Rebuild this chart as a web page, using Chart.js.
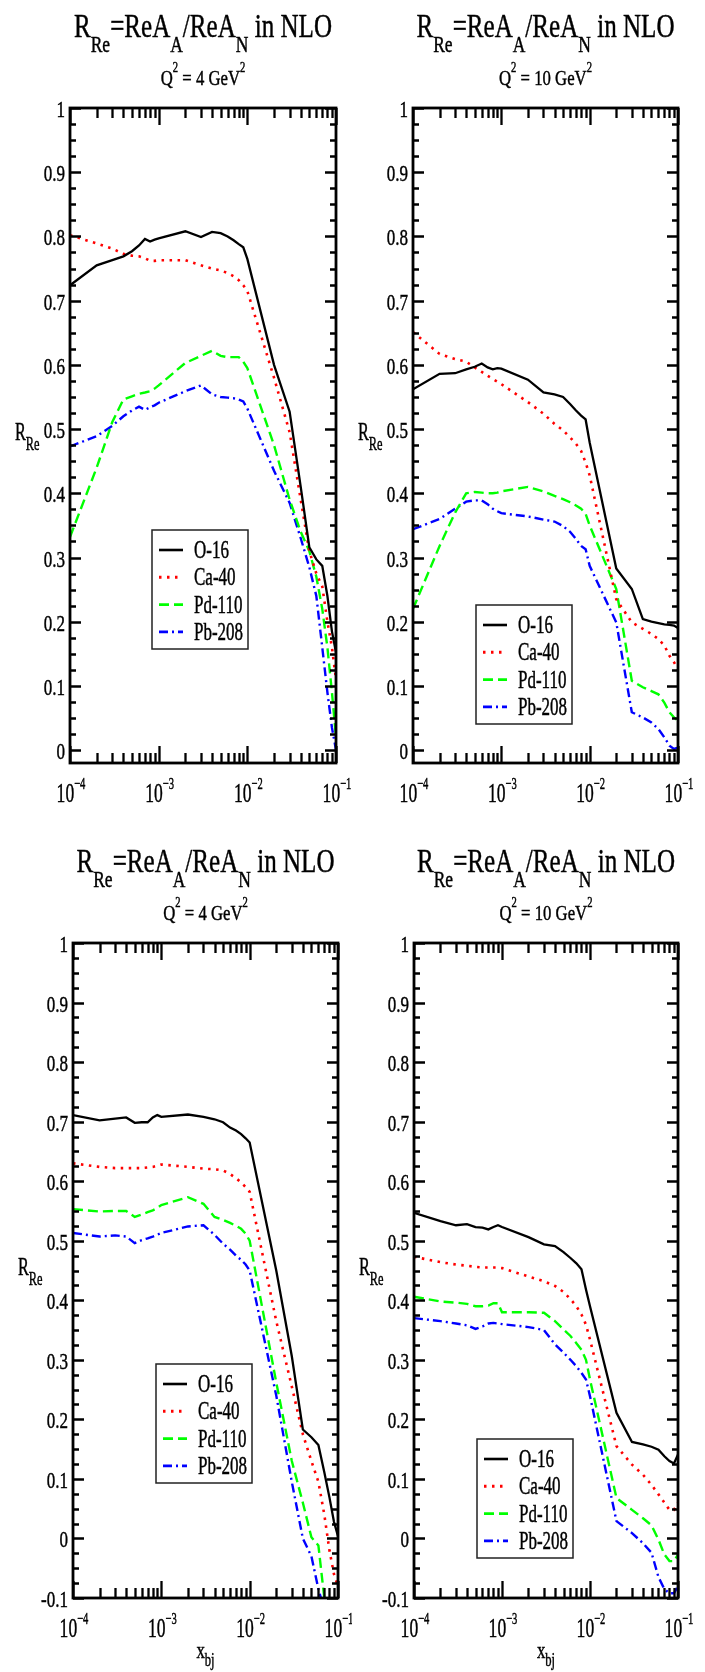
<!DOCTYPE html>
<html>
<head>
<meta charset="utf-8">
<script src="https://cdn.jsdelivr.net/npm/chart.js@4.4.0/dist/chart.umd.min.js"></script>
<style>
  html, body { margin: 0; padding: 0; background: #fff; }
  #page { position: relative; width: 705px; height: 1672px; overflow: hidden; }
  canvas { position: absolute; }
</style>
</head>
<body>
<div id="page">
  <canvas id="c1"></canvas>
  <canvas id="c2"></canvas>
  <canvas id="c3"></canvas>
  <canvas id="c4"></canvas>
</div>
<script>
/* DATA */
const XBJ = [1e-4,2e-4,3e-4,4e-4,5e-4,6e-4,7e-4,8e-4,9e-4,
             1e-3,2e-3,3e-3,4e-3,5e-3,6e-3,7e-3,8e-3,9e-3,
             1e-2,2e-2,3e-2,4e-2,5e-2,6e-2,7e-2,8e-2,9e-2,1e-1];

const NUCLEI = ["O-16", "Ca-40", "Pd-110", "Pb-208"];
const X_DECADES = [1e-4, 1e-3, 1e-2, 1e-1];
const X_EXPONENTS = ["\u22124", "\u22123", "\u22122", "\u22121"];
const Y_VALUES = [-0.1, 0, 0.1, 0.2, 0.3, 0.4, 0.5, 0.6, 0.7, 0.8, 0.9, 1];
const Y_LABELS = ["-0.1", "0", "0.1", "0.2", "0.3", "0.4", "0.5", "0.6", "0.7", "0.8", "0.9", "1"];

// top-left, Q2 = 4
const q4top_O16   = [0.724,0.755,0.763,0.769,0.777,0.786,0.796,0.792,0.795,0.797,0.808,0.799,0.807,0.805,0.800,0.794,0.788,0.783,0.765,0.600,0.527,0.410,0.316,0.297,0.287,0.240,0.185,0.152];
const q4top_Ca40  = [0.802,0.789,0.781,0.773,0.770,0.769,0.766,0.762,0.762,0.763,0.763,0.755,0.750,0.747,0.743,0.738,0.732,0.724,0.715,0.580,0.495,0.390,0.310,0.275,0.255,0.200,0.160,0.110];
const q4top_Pd110 = [0.332,0.440,0.511,0.546,0.551,0.555,0.557,0.559,0.563,0.568,0.603,0.614,0.622,0.614,0.612,0.612,0.612,0.605,0.595,0.475,0.390,0.340,0.310,0.270,0.220,0.160,0.090,0.020];
const q4top_Pb208 = [0.473,0.489,0.505,0.520,0.529,0.535,0.530,0.534,0.537,0.541,0.559,0.568,0.554,0.550,0.549,0.548,0.546,0.543,0.532,0.435,0.385,0.330,0.285,0.240,0.160,0.090,0.035,0.000];

// top-right, Q2 = 10
const q10top_O16   = [0.562,0.586,0.587,0.593,0.597,0.602,0.596,0.593,0.595,0.594,0.577,0.557,0.554,0.550,0.539,0.529,0.521,0.515,0.479,0.283,0.251,0.204,0.200,0.198,0.196,0.195,0.194,0.190];
const q10top_Ca40  = [0.651,0.617,0.609,0.605,0.596,0.589,0.583,0.578,0.574,0.570,0.542,0.524,0.508,0.498,0.487,0.477,0.466,0.448,0.428,0.235,0.199,0.189,0.181,0.173,0.163,0.147,0.137,0.126];
const q10top_Pd110 = [0.220,0.318,0.370,0.400,0.402,0.401,0.400,0.400,0.401,0.403,0.410,0.403,0.396,0.391,0.386,0.381,0.376,0.368,0.350,0.251,0.108,0.098,0.092,0.087,0.074,0.059,0.051,0.046];
const q10top_Pb208 = [0.344,0.360,0.376,0.387,0.389,0.389,0.383,0.376,0.372,0.369,0.364,0.359,0.356,0.349,0.340,0.329,0.318,0.313,0.287,0.199,0.059,0.051,0.043,0.033,0.020,0.007,0.002,0.004];

// bottom-left, Q2 = 4
const q4bot_O16   = [0.711,0.702,0.705,0.707,0.698,0.699,0.699,0.707,0.711,0.708,0.712,0.708,0.704,0.699,0.690,0.685,0.679,0.672,0.665,0.450,0.306,0.183,0.170,0.157,0.111,0.069,0.028,0.004];
const q4bot_Ca40  = [0.630,0.624,0.622,0.622,0.622,0.622,0.623,0.624,0.626,0.628,0.624,0.621,0.620,0.618,0.612,0.605,0.598,0.590,0.582,0.365,0.255,0.175,0.130,0.095,0.040,-0.020,-0.060,-0.080];
const q4bot_Pd110 = [0.553,0.549,0.550,0.550,0.540,0.544,0.548,0.551,0.555,0.560,0.573,0.562,0.540,0.535,0.530,0.525,0.520,0.512,0.500,0.262,0.130,0.060,0.002,-0.012,-0.100,-0.140,-0.170,-0.200];
const q4bot_Pb208 = [0.513,0.507,0.509,0.507,0.496,0.501,0.504,0.507,0.510,0.513,0.524,0.526,0.510,0.495,0.485,0.475,0.468,0.460,0.450,0.240,0.095,0.000,-0.030,-0.085,-0.120,-0.160,-0.190,-0.220];

// bottom-right, Q2 = 10
const q10bot_O16   = [0.547,0.533,0.526,0.528,0.523,0.522,0.519,0.523,0.526,0.523,0.506,0.494,0.491,0.481,0.471,0.462,0.452,0.418,0.390,0.211,0.162,0.158,0.154,0.149,0.138,0.130,0.126,0.141];
const q10bot_Ca40  = [0.473,0.464,0.460,0.458,0.456,0.455,0.455,0.455,0.455,0.454,0.440,0.432,0.424,0.414,0.402,0.390,0.376,0.359,0.334,0.155,0.124,0.107,0.090,0.074,0.060,0.048,0.048,0.060];
const q10bot_Pd110 = [0.406,0.398,0.396,0.394,0.390,0.390,0.391,0.395,0.395,0.380,0.380,0.379,0.365,0.351,0.340,0.328,0.317,0.300,0.267,0.068,0.048,0.034,0.022,-0.002,-0.027,-0.038,-0.038,-0.027];
const q10bot_Pb208 = [0.370,0.365,0.361,0.358,0.352,0.356,0.361,0.362,0.361,0.360,0.355,0.350,0.326,0.312,0.300,0.289,0.278,0.267,0.239,0.029,0.009,-0.008,-0.024,-0.065,-0.085,-0.092,-0.092,-0.080];

/* STYLE */
const COLORS = ["#000000", "#ff0000", "#00ff00", "#0000ff"];
const DASHES = [[], [2.5, 5.5], [10, 5], [9, 4, 2, 4]];
const WIDTHS = [2.3, 2.6, 2.4, 2.4];
const FONT = '"Liberation Serif", "Times New Roman", serif';

/* PANELS (page coords) */
const panels = [
  { id: "c1", x0: 0,   y0: 0,   w: 352, h: 836, area: { l: 70,  r: 336, t: 108, b: 763 },  q2: "4",  yMin: -0.02,
    series: [q4top_O16, q4top_Ca40, q4top_Pd110, q4top_Pb208], legend: { x: 82, y: 422 }, xTitle: false },
  { id: "c2", x0: 352, y0: 0,   w: 353, h: 836, area: { l: 413, r: 678, t: 108, b: 763 },  q2: "10", yMin: -0.02,
    series: [q10top_O16, q10top_Ca40, q10top_Pd110, q10top_Pb208], legend: { x: 63, y: 497 }, xTitle: false },
  { id: "c3", x0: 0,   y0: 836, w: 352, h: 836, area: { l: 73,  r: 338, t: 943, b: 1598 }, q2: "4",  yMin: -0.1,
    series: [q4bot_O16, q4bot_Ca40, q4bot_Pd110, q4bot_Pb208], legend: { x: 83, y: 421 }, xTitle: true },
  { id: "c4", x0: 352, y0: 836, w: 353, h: 836, area: { l: 414, r: 678, t: 943, b: 1598 }, q2: "10", yMin: -0.1,
    series: [q10bot_O16, q10bot_Ca40, q10bot_Pd110, q10bot_Pb208], legend: { x: 63, y: 496 }, xTitle: true }
];

/* TEXT HELPERS */
function runsWidth(ctx, runs) {
  let w = 0;
  runs.forEach(r => {
    ctx.font = r.size + "px " + FONT;
    w += ctx.measureText(r.t).width * r.sx;
  });
  return w;
}

function drawRuns(ctx, runs, x, y, align) {
  const w = runsWidth(ctx, runs);
  let cx = align === "center" ? x - w / 2 : align === "right" ? x - w : x;
  ctx.textAlign = "left";
  ctx.textBaseline = "alphabetic";
  ctx.fillStyle = "#000";
  ctx.strokeStyle = "#000";
  ctx.setLineDash([]);
  runs.forEach(r => {
    ctx.font = r.size + "px " + FONT;
    const tw = ctx.measureText(r.t).width * r.sx;
    ctx.save();
    ctx.translate(cx, y + (r.dy || 0));
    ctx.scale(r.sx, 1);
    ctx.fillText(r.t, 0, 0);
    // slightly heavier strokes, like the scanned original
    ctx.lineWidth = 0.45;
    ctx.strokeText(r.t, 0, 0);
    ctx.restore();
    cx += tw;
  });
}

/* FRAME, TICKS, LABELS, LEGEND */
function decorations(p) {
  return {
    id: "deco_" + p.id,
    afterDatasetsDraw(chart) {
      const ctx = chart.ctx;
      const a = chart.chartArea;
      const xs = chart.scales.x;
      const ys = chart.scales.y;
      ctx.save();

      // ticks
      ctx.strokeStyle = "#000";
      ctx.lineWidth = 2.3;
      ctx.setLineDash([]);
      ctx.beginPath();
      const k0 = Math.ceil(ys.min / 0.025 - 1e-9);
      const k1 = Math.floor(ys.max / 0.025 + 1e-9);
      for (let k = k0; k <= k1; k++) {
        const y = Math.round(ys.getPixelForValue(k * 0.025)) + 0.5;
        const len = (k % 4 === 0) ? 11 : 6;
        ctx.moveTo(a.left, y); ctx.lineTo(a.left + len, y);
        ctx.moveTo(a.right, y); ctx.lineTo(a.right - len, y);
      }
      X_DECADES.forEach((d, i) => {
        const last = i === X_DECADES.length - 1;
        for (let m = 1; m <= (last ? 1 : 9); m++) {
          const x = Math.round(xs.getPixelForValue(m * d)) + 0.5;
          const len = m === 1 ? 17 : 10;
          ctx.moveTo(x, a.top); ctx.lineTo(x, a.top + len);
          ctx.moveTo(x, a.bottom); ctx.lineTo(x, a.bottom - len);
        }
      });
      ctx.stroke();

      // frame
      ctx.lineWidth = 2.8;
      ctx.strokeRect(a.left, a.top, a.right - a.left, a.bottom - a.top);

      // y tick labels
      Y_VALUES.forEach((v, i) => {
        if (v < ys.min - 1e-9) return;
        const y = ys.getPixelForValue(v);
        drawRuns(ctx, [{ t: Y_LABELS[i], size: 23, sx: 0.74 }], a.left - 5, y + 9, "right");
      });

      // x tick labels
      X_DECADES.forEach((d, i) => {
        const x = xs.getPixelForValue(d);
        drawRuns(ctx, [
          { t: "10", size: 27, sx: 0.65 },
          { t: X_EXPONENTS[i], size: 17, sx: 0.62, dy: -13 }
        ], x + 1, a.bottom + 39, "center");
      });

      const cx = (a.left + a.right) / 2;
      const cy = (a.top + a.bottom) / 2;

      // title
      drawRuns(ctx, [
        { t: "R", size: 33, sx: 0.76 },
        { t: "Re", size: 23, sx: 0.76, dy: 15 },
        { t: "=ReA", size: 33, sx: 0.76 },
        { t: "A", size: 23, sx: 0.76, dy: 15 },
        { t: "/ReA", size: 33, sx: 0.76 },
        { t: "N", size: 23, sx: 0.76, dy: 15 },
        { t: " in NLO", size: 33, sx: 0.76 }
      ], cx, a.top - 71, "center");

      drawRuns(ctx, [
        { t: "Q", size: 22, sx: 0.76 },
        { t: "2", size: 14, sx: 0.76, dy: -13 },
        { t: " = " + p.q2 + " GeV", size: 22, sx: 0.76 },
        { t: "2", size: 14, sx: 0.76, dy: -13 }
      ], cx, a.top - 23, "center");

      // y title
      drawRuns(ctx, [
        { t: "R", size: 25, sx: 0.65 },
        { t: "Re", size: 19, sx: 0.65, dy: 10 }
      ], a.left - 55, cy + 4.5, "left");

      // x title
      if (p.xTitle) {
        drawRuns(ctx, [
          { t: "x", size: 24, sx: 0.7 },
          { t: "bj", size: 18, sx: 0.7, dy: 8 }
        ], cx, a.bottom + 60, "center");
      }

      // legend
      const lx = a.left + p.legend.x;
      const ly = a.top + p.legend.y;
      ctx.fillStyle = "#fff";
      ctx.fillRect(lx, ly, 96, 119);
      ctx.strokeStyle = "#222";
      ctx.lineWidth = 1.5;
      ctx.strokeRect(lx, ly, 96, 119);
      chart.data.datasets.forEach((ds, k) => {
        const ry = ly + 20 + k * 27.3;
        ctx.strokeStyle = ds.borderColor;
        ctx.lineWidth = ds.borderWidth + 0.3;
        ctx.setLineDash(ds.borderDash);
        ctx.beginPath();
        ctx.moveTo(lx + 7, ry);
        ctx.lineTo(lx + 31, ry);
        ctx.stroke();
        ctx.setLineDash([]);
        drawRuns(ctx, [{ t: ds.label, size: 25, sx: 0.68 }], lx + 42, ry + 8, "left");
      });

      ctx.restore();
    }
  };
}

/* CHARTS */
panels.forEach(p => {
  const canvas = document.getElementById(p.id);
  canvas.width = p.w;
  canvas.height = p.h;
  canvas.style.left = p.x0 + "px";
  canvas.style.top = p.y0 + "px";
  canvas.style.width = p.w + "px";
  canvas.style.height = p.h + "px";

  new Chart(canvas, {
    type: "line",
    data: {
      datasets: p.series.map((vals, k) => ({
        label: NUCLEI[k],
        data: XBJ.map((x, i) => ({ x: x, y: vals[i] })),
        borderColor: COLORS[k],
        borderDash: DASHES[k],
        borderWidth: WIDTHS[k],
        pointRadius: 0,
        fill: false,
        tension: 0
      }))
    },
    options: {
      responsive: false,
      animation: false,
      devicePixelRatio: 1,
      layout: {
        padding: {
          left: p.area.l - p.x0,
          right: p.x0 + p.w - p.area.r,
          top: p.area.t - p.y0,
          bottom: p.y0 + p.h - p.area.b
        }
      },
      scales: {
        x: { type: "logarithmic", min: 1e-4, max: 1e-1, display: false },
        y: { type: "linear", min: p.yMin, max: 1, display: false }
      },
      plugins: {
        legend: { display: false },
        tooltip: { enabled: false },
        title: { display: false }
      }
    },
    plugins: [decorations(p)]
  });
});
</script>
</body>
</html>
